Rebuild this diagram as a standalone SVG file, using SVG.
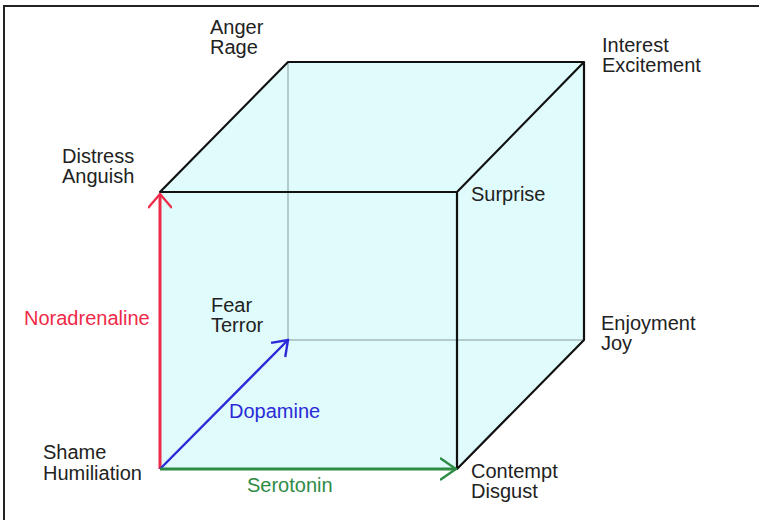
<svg xmlns="http://www.w3.org/2000/svg" width="759" height="520" viewBox="0 0 759 520">
<style>
text{font-family:"Liberation Sans",Arial,sans-serif;font-size:20px;fill:#222}
.edge{stroke:#111;stroke-width:2.2;fill:none;stroke-linecap:round;stroke-linejoin:round}
.back{stroke:#8a9a9a;stroke-width:1;fill:none}
.nor{fill:#ee2a48}.dop{fill:#2a2ad8}.ser{fill:#2e8b45}
</style>
<defs>
<marker id="ahR" viewBox="-16 -12 18 24" refX="0" refY="0" markerUnits="userSpaceOnUse" markerWidth="18" markerHeight="24" orient="auto"><path d="M-14,-12 L0,0 L-14,12" fill="none" stroke="#ee2a48" stroke-width="2.4"/></marker>
<marker id="ahB" viewBox="-16 -12 18 24" refX="0" refY="0" markerUnits="userSpaceOnUse" markerWidth="18" markerHeight="24" orient="auto"><path d="M-14,-10 L0,0 L-14,10" fill="none" stroke="#2a2ad8" stroke-width="2.4"/></marker>
<marker id="ahG" viewBox="-16 -12 18 24" refX="0" refY="0" markerUnits="userSpaceOnUse" markerWidth="18" markerHeight="24" orient="auto"><path d="M-16,-11 L0,0 L-16,11" fill="none" stroke="#2e8b45" stroke-width="2.4"/></marker>
</defs>
<rect width="759" height="520" fill="#fff"/>
<path d="M4,520 V6 H759" fill="none" stroke="#222" stroke-width="2"/>
<g id="cube">
<polygon points="160,192 288,62 584,62 584,340 457,469 160,469" fill="#e0fbfb"/>
<path class="back" d="M288,62 V340 H584"/>
<path class="edge" d="M160,192 H457 V469 M160,192 L288,62 H584 L457,192 M584,62 V340 L457,469"/>
</g>
<g id="connectors">
<line x1="160" y1="469" x2="160" y2="194" stroke="#ee2a48" stroke-width="3" marker-end="url(#ahR)"/>
<line x1="160" y1="469" x2="288" y2="340" stroke="#2a2ad8" stroke-width="2.4" marker-end="url(#ahB)"/>
<line x1="160" y1="469" x2="456" y2="469" stroke="#2e8b45" stroke-width="3" marker-end="url(#ahG)"/>
</g>
<g id="anger"><text x="210" y="34">Anger</text><text x="210" y="54">Rage</text></g>
<g id="interest"><text x="602" y="52">Interest</text><text x="602" y="72">Excitement</text></g>
<g id="distress"><text x="62" y="163">Distress</text><text x="62" y="183">Anguish</text></g>
<g id="surprise"><text x="471" y="201">Surprise</text></g>
<g id="fear"><text x="211" y="312">Fear</text><text x="211" y="332">Terror</text></g>
<g id="enjoyment"><text x="601" y="330">Enjoyment</text><text x="601" y="350">Joy</text></g>
<g id="shame"><text x="43" y="459">Shame</text><text x="43" y="480">Humiliation</text></g>
<g id="contempt"><text x="471" y="478">Contempt</text><text x="471" y="498">Disgust</text></g>
<g id="labels">
<text class="nor" x="24" y="325">Noradrenaline</text>
<text class="dop" x="229" y="418">Dopamine</text>
<text class="ser" x="247" y="492">Serotonin</text>
</g>
</svg>
